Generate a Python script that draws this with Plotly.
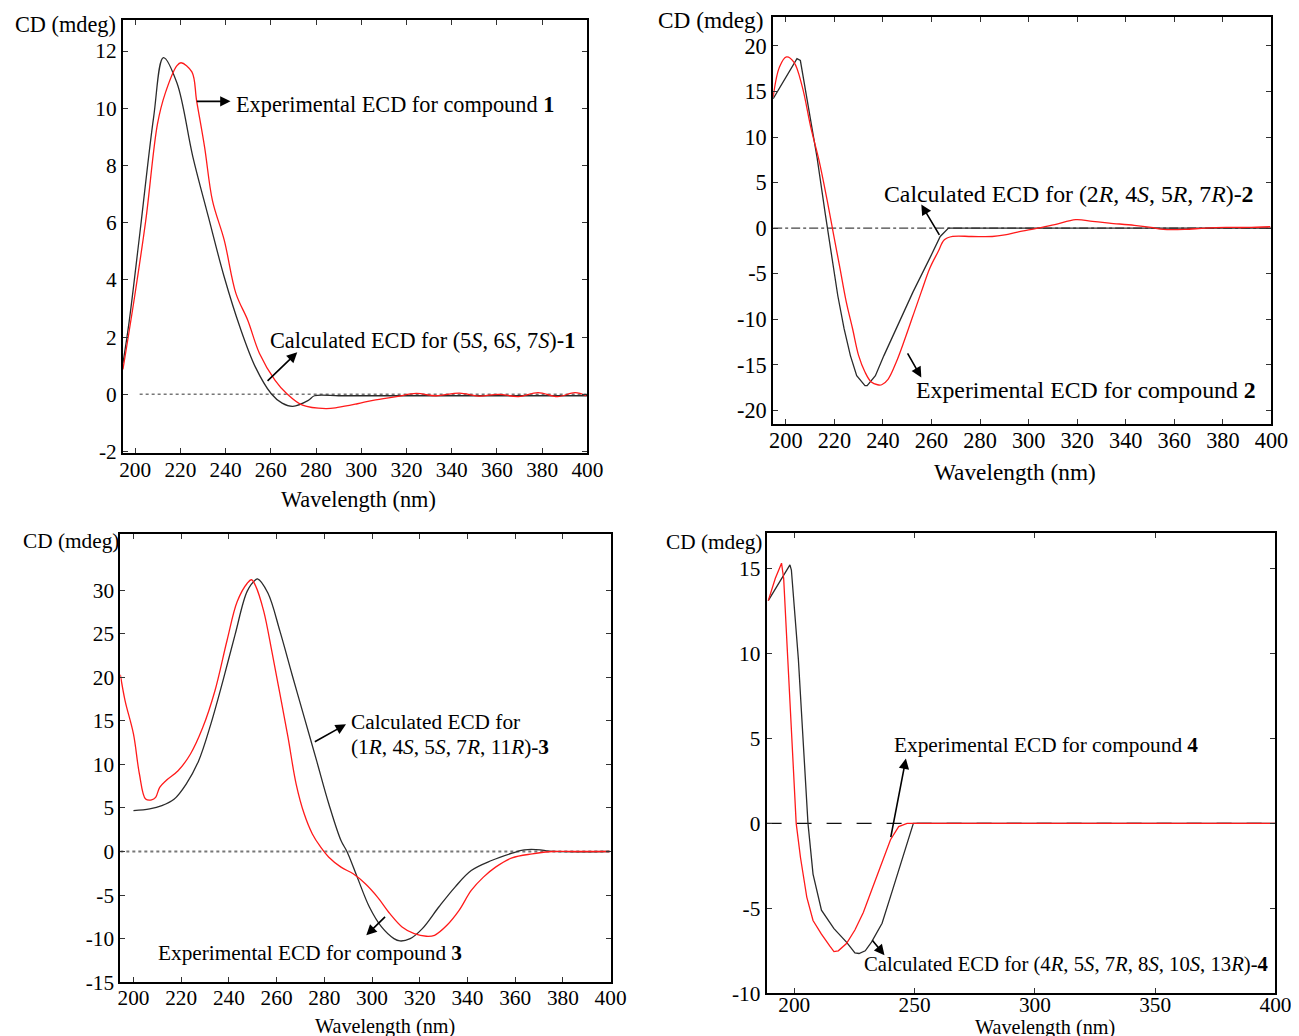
import plotly.graph_objects as go

# The photographed page comes out at a ~0.988 scale of the CSS layout (body has an
# 8px margin), so layout positions are taken from the reference and divided by S.
S = 0.988
OFF = 8
W = int(round(1299 / S)) - 2 * OFF
H = int(round(1036 / S)) - 2 * OFF

# ---------------- data ----------------
# Panel 1
p1_calc_x = [194.6, 197.4, 202.1, 208.2, 212.5, 218.5, 225.5, 232.4, 239.4, 246.3, 253.2, 260.2, 265.0, 269.7, 276.6, 279.3, 290, 300, 320, 340, 360, 380, 400]
p1_calc_y = [1.08, 2.57, 5.64, 9.70, 11.77, 10.88, 8.31, 6.20, 4.10, 2.36, 0.95, 0.02, -0.31, -0.42, -0.21, -0.05, -0.05, -0.05, -0.05, -0.05, -0.05, -0.05, -0.05]
p1_exp_x = [194.6, 199.5, 204.7, 209.9, 213.3, 218.5, 220.3, 225.1, 227.2, 230.7, 234.2, 239.4, 244.6, 249.8, 255.0, 261.9, 267.1, 274.0, 284.4, 289.6, 298.3, 305.2, 315.6, 324.3, 333.0, 343.4, 352.0, 360.8, 369.5, 378.2, 386.8, 394.6, 399.5]
p1_exp_y = [0.87, 3.28, 6.08, 9.46, 10.52, 11.49, 11.59, 11.27, 10.26, 8.65, 6.77, 5.39, 3.52, 2.59, 1.43, 0.49, 0.02, -0.38, -0.50, -0.46, -0.33, -0.21, -0.08, 0.03, -0.05, 0.04, -0.06, 0.0, -0.08, 0.06, -0.08, 0.06, -0.05]
p1_zero_x = [202, 400]

# Panel 2
p2_calc_x = [194.8, 204.6, 206.0, 209.4, 212.9, 216.3, 218.9, 221.4, 224.0, 226.6, 229.2, 232.6, 233.5, 236.9, 240.4, 245.5, 252.4, 259.3, 263.6, 267.0, 300, 350, 400]
p2_calc_y = [14.2, 18.6, 18.4, 12.9, 7.7, 1.47, -2.95, -7.4, -11.05, -14.0, -16.2, -17.3, -17.3, -16.2, -14.0, -11.05, -7.0, -3.3, -0.92, 0.0, 0.0, 0.0, 0.0]
p2_exp_x = [194.8, 197.4, 200.3, 203.4, 206.8, 210.3, 213.7, 217.1, 219.7, 222.3, 224.9, 227.5, 230.0, 232.6, 235.2, 237.8, 239.5, 242.1, 245.5, 249.0, 252.4, 255.8, 259.3, 262.7, 265.3, 268.7, 276.5, 285.0, 290.2, 295.4, 304.0, 310.8, 319.4, 326.3, 333.2, 343.5, 350.4, 355.5, 364.1, 372.7, 381.3, 389.9, 399.5]
p2_exp_y = [14.4, 17.7, 18.8, 18.2, 15.5, 11.05, 7.4, 2.95, -0.74, -4.4, -8.1, -11.05, -14.0, -15.8, -16.9, -17.2, -17.2, -16.6, -14.7, -12.2, -9.6, -7.0, -4.4, -2.6, -1.29, -0.92, -0.92, -0.92, -0.74, -0.44, 0.0, 0.37, 0.92, 0.74, 0.55, 0.3, 0.07, -0.15, -0.15, 0.0, 0.07, 0.07, 0.15]
p2_zero_x = [194.8, 400]

# Panel 3
p3_calc_x = [200.0, 206.8, 211.9, 217.0, 222.1, 227.3, 232.4, 237.5, 242.6, 247.7, 251.2, 252.0, 256.3, 261.4, 266.5, 271.6, 276.8, 281.9, 287.0, 289.5, 293.8, 298.9, 304.0, 309.2, 311.7, 316.0, 321.1, 328.0, 334.8, 341.6, 350.1, 358.7, 363.8, 370.6, 374.0, 399.6]
p3_calc_y = [4.7, 4.9, 5.27, 6.0, 7.75, 10.4, 14.6, 19.6, 24.9, 29.9, 31.2, 31.3, 29.7, 25.3, 20.3, 15.4, 10.4, 5.46, 1.26, 0.0, -2.94, -6.37, -8.66, -10.0, -10.27, -10.0, -8.85, -6.37, -4.08, -2.18, -1.03, -0.19, 0.19, 0.19, 0.04, 0.0]
p3_exp_x = [194.5, 196.5, 200.0, 202.5, 205.1, 207.6, 209.3, 211.0, 213.6, 218.7, 223.9, 229.0, 234.1, 239.2, 243.5, 247.7, 249.5, 251.2, 254.6, 258.0, 261.4, 264.8, 268.2, 271.6, 275.0, 278.5, 281.9, 287.0, 292.1, 297.2, 302.3, 307.5, 312.6, 317.7, 322.8, 326.2, 331.4, 336.5, 341.6, 346.7, 351.8, 358.7, 367.2, 375.7, 384.3, 399.6]
p3_exp_y = [20.3, 17.3, 13.5, 8.9, 6.03, 5.92, 6.22, 7.37, 8.13, 9.27, 11.2, 14.2, 18.4, 24.2, 28.7, 30.8, 31.2, 30.5, 27.6, 23.0, 18.1, 13.1, 7.75, 4.3, 2.02, 0.5, -0.65, -1.79, -2.56, -3.7, -5.23, -7.14, -8.66, -9.43, -9.73, -9.62, -8.47, -6.76, -4.47, -2.94, -1.79, -0.73, -0.27, 0.0, 0.0, 0.0]
p3_zero_x = [194.5, 400]

# Panel 4
p4_calc_x = [189.2, 198.2, 198.8, 201.7, 205.7, 207.8, 211.3, 216.5, 221.7, 225.2, 226.9, 229.5, 232.1, 236.5, 240.8, 245.2, 249.5, 300, 350, 400]
p4_calc_y = [13.1, 15.2, 14.9, 9.67, 0.0, -2.98, -5.1, -6.19, -6.98, -7.62, -7.65, -7.49, -6.98, -5.87, -3.94, -2.02, 0.0, 0.0, 0.0, 0.0]
p4_exp_x = [189.2, 192.1, 194.7, 195.6, 197.3, 199.1, 200.8, 202.6, 205.2, 207.8, 211.3, 214.8, 216.5, 218.3, 221.7, 225.2, 228.7, 232.1, 236.5, 240.0, 243.4, 246.9, 300, 350, 400]
p4_exp_y = [13.1, 14.4, 15.3, 14.4, 9.67, 4.93, 0.0, -2.02, -4.33, -5.71, -6.51, -7.22, -7.54, -7.49, -7.06, -6.27, -5.24, -3.94, -2.21, -0.96, -0.19, 0.0, 0.0, 0.0, 0.0]
p4_zero_x = [188.5, 400]

# ---------------- styling helpers ----------------
FONT = "Liberation Serif, Times New Roman, serif"
RED = "#ff1a1a"
BLK = "#2b2b2b"

def px_x(p):
    return (p / S - OFF) / W

def px_y(p):
    return 1 - (p / S - OFF) / H

def fsz(v):
    return round(v / S, 1)

panels = [
    dict(xd=(119.3, 585.7), yd=(20, 452.7), xr=[194.6, 400], yr=[-2.05, 13.08],
         xt=list(range(200, 401, 20)), yt=list(range(-2, 13, 2)), fs=21, so=-4),
    dict(xd=(772.3, 1272.7), yd=(16.7, 423.3), xr=[194.8, 400], yr=[-21.46, 23.2],
         xt=list(range(200, 401, 20)), yt=list(range(-20, 21, 5)), fs=22, so=-4),
    dict(xd=(116.7, 609), yd=(533.3, 981.7), xr=[194.5, 400], yr=[-15, 36.5],
         xt=list(range(200, 401, 20)), yt=list(range(-15, 31, 5)), fs=21, so=-5),
    dict(xd=(765.7, 1276.7), yd=(532.3, 993), xr=[188.5, 400], yr=[-10, 17.1],
         xt=list(range(200, 401, 50)), yt=list(range(-10, 16, 5)), fs=21, so=-9),
]

fig = go.Figure()
layout = dict(width=W, height=H, autosize=False,
              margin=dict(l=0, r=0, t=0, b=0),
              paper_bgcolor="white", plot_bgcolor="white",
              showlegend=False, font=dict(family=FONT, color="black"))

for i, p in enumerate(panels, start=1):
    sfx = "" if i == 1 else str(i)
    layout["xaxis" + sfx] = dict(
        domain=[px_x(p["xd"][0]), px_x(p["xd"][1])], range=p["xr"],
        anchor="y" + sfx, showline=True, linecolor="black", linewidth=2,
        mirror="ticks", ticks="inside", ticklen=5, tickwidth=1, tickcolor="#333",
        tickvals=p["xt"], ticktext=[str(v) for v in p["xt"]],
        tickfont=dict(family=FONT, size=fsz(p["fs"]), color="black"),
        ticklabelstandoff=p["so"],
        showgrid=False, zeroline=False, fixedrange=True)
    layout["yaxis" + sfx] = dict(
        domain=[px_y(p["yd"][1]), px_y(p["yd"][0])], range=p["yr"],
        anchor="x" + sfx, showline=True, linecolor="black", linewidth=2,
        mirror="ticks", ticks="inside", ticklen=5, tickwidth=1, tickcolor="#333",
        tickvals=p["yt"], ticktext=[str(v) for v in p["yt"]],
        tickfont=dict(family=FONT, size=fsz(p["fs"]), color="black"),
        showgrid=False, zeroline=False, fixedrange=True)

def add_line(x, y, i, color, width=1.3, dash="solid", shape="linear"):
    sfx = "" if i == 1 else str(i)
    fig.add_trace(go.Scatter(x=x, y=y, mode="lines", xaxis="x" + sfx, yaxis="y" + sfx,
                             line=dict(color=color, width=width, dash=dash, shape=shape),
                             hoverinfo="skip"))

# zero lines
add_line(p1_zero_x, [0] * len(p1_zero_x), 1, "#777777", 1.5, "dot")
add_line(p2_zero_x, [0] * len(p2_zero_x), 2, "#444444", 1.3, "dashdot")
add_line(p3_zero_x, [0] * len(p3_zero_x), 3, "#777777", 1.8, "dot")
add_line(p4_zero_x, [0] * len(p4_zero_x), 4, "#111111", 1.3, "longdash")

# curves
add_line(p1_calc_x, p1_calc_y, 1, BLK, shape="spline")
add_line(p1_exp_x, p1_exp_y, 1, RED, shape="spline")
add_line(p2_calc_x, p2_calc_y, 2, BLK)
add_line(p2_exp_x, p2_exp_y, 2, RED, shape="spline")
add_line(p3_calc_x, p3_calc_y, 3, BLK, shape="spline")
add_line(p3_exp_x, p3_exp_y, 3, RED, shape="spline")
add_line(p4_calc_x, p4_calc_y, 4, BLK)
add_line(p4_exp_x, p4_exp_y, 4, RED)

annotations = []

def text_ann(i, x, y, txt, size):
    sfx = "" if i == 1 else str(i)
    annotations.append(dict(x=x, y=y, xref="x" + sfx, yref="y" + sfx, text=txt,
                            showarrow=False, xanchor="left", yanchor="middle",
                            font=dict(family=FONT, size=fsz(size), color="black")))

def arrow_ann(i, tail, head):
    sfx = "" if i == 1 else str(i)
    annotations.append(dict(x=head[0], y=head[1], ax=tail[0], ay=tail[1],
                            xref="x" + sfx, yref="y" + sfx, axref="x" + sfx, ayref="y" + sfx,
                            text="", showarrow=True, arrowhead=2, arrowsize=1.3,
                            arrowwidth=1.6, arrowcolor="black", standoff=0, startstandoff=0))

def paper_ann(px, py, txt, size):
    annotations.append(dict(x=px_x(px), y=px_y(py), xref="paper", yref="paper", text=txt,
                            showarrow=False, xanchor="center", yanchor="middle",
                            font=dict(family=FONT, size=fsz(size), color="black")))

# Panel 1 labels
text_ann(1, 243.9, 10.14, "Experimental ECD for compound <b>1</b>", 22)
arrow_ann(1, (226.6, 10.24), (242.2, 10.24))
text_ann(1, 258.8, 1.89, "Calculated ECD for (5<i>S</i>, 6<i>S</i>, 7<i>S</i>)-<b>1</b>", 22)
arrow_ann(1, (257.9, 0.42), (271.7, 1.47))
paper_ann(61.5, 24, "CD (mdeg)", 22)
paper_ann(356, 499, "Wavelength (nm)", 22)

# Panel 2 labels
text_ann(2, 239.7, 3.74, "Calculated ECD for (2<i>R</i>, 4<i>S</i>, 5<i>R</i>, 7<i>R</i>)-<b>2</b>", 23.5)
arrow_ann(2, (263.6, -0.9), (255.8, 2.59))
text_ann(2, 252.8, -17.8, "Experimental ECD for compound <b>2</b>", 23.5)
arrow_ann(2, (249.8, -13.6), (255.8, -16.4))
paper_ann(709, 20, "CD (mdeg)", 23)
paper_ann(1015, 472, "Wavelength (nm)", 23)

# Panel 3 labels
text_ann(3, 290.4, 14.9, "Calculated ECD for", 21)
text_ann(3, 290.4, 12.0, "(1<i>R</i>, 4<i>S</i>, 5<i>S</i>, 7<i>R</i>, 11<i>R</i>)-<b>3</b>", 21)
arrow_ann(3, (275.4, 12.5), (289.1, 14.6))
text_ann(3, 209.3, -11.7, "Experimental ECD for compound <b>3</b>", 21)
arrow_ann(3, (306.1, -7.33), (297.6, -9.62))
paper_ann(67, 541, "CD (mdeg)", 21)
paper_ann(382, 1026, "Wavelength (nm)", 20)

# Panel 4 labels
text_ann(4, 240.8, 4.6, "Experimental ECD for compound <b>4</b>", 21)
arrow_ann(4, (240.0, -0.9), (246.4, 3.81))
text_ann(4, 228.3, -8.3, "Calculated ECD for (4<i>R</i>, 5<i>S</i>, 7<i>R</i>, 8<i>S,</i> 10<i>S</i>, 13<i>R</i>)-<b>4</b>", 20.5)
arrow_ann(4, (232.0, -6.8), (237.5, -7.75))
paper_ann(713, 542, "CD (mdeg)", 21)
paper_ann(1045, 1027, "Wavelength (nm)", 20)

layout["annotations"] = annotations
fig.update_layout(**layout)
fig.write_html("out.html", config={"displayModeBar": False})
